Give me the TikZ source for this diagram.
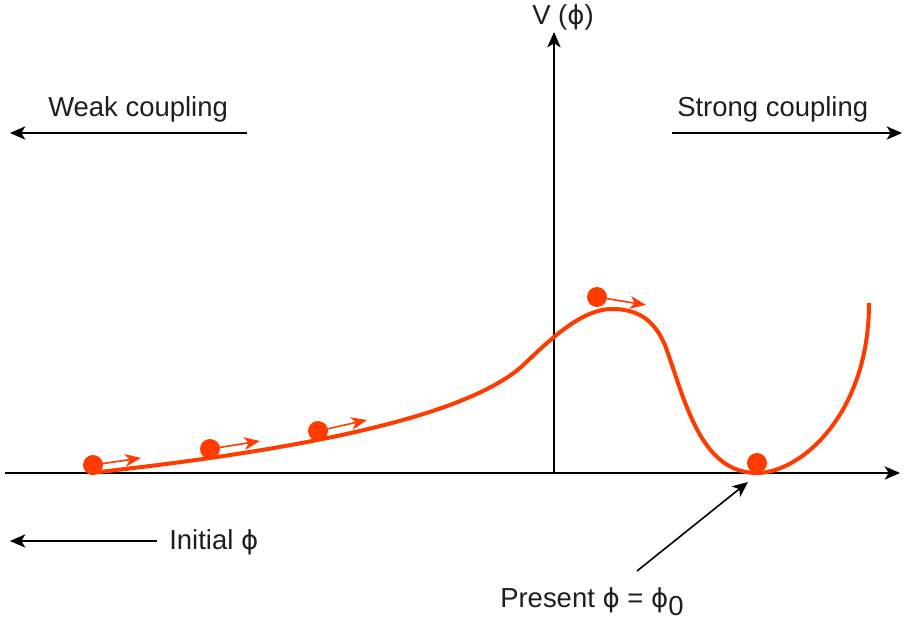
\documentclass[tikz,border=0pt]{standalone}
\usepackage{fontspec}
\setmainfont{Liberation Sans}
\newfontfamily\phifont[Scale=0.95]{DejaVu Sans}
\newcommand\phisym{{\phifont ϕ}}
\usetikzlibrary{arrows.meta}
\definecolor{curveorange}{RGB}{255,59,0}
\definecolor{txt}{RGB}{30,30,30}
\begin{document}
\begin{tikzpicture}[x=0.75pt,y=-0.75pt,
  lbl/.style={anchor=base west, inner sep=0pt, font=\fontsize{20.6}{24}\selectfont, text=txt},
  blackarrow/.style={line width=1.2pt, -{Stealth[length=11.5pt,width=10pt,inset=3pt]}},
  ball/.style={circle, fill=curveorange, inner sep=0pt, minimum size=15pt},
  motion/.style={curveorange, line width=1.2pt, -{Stealth[length=12pt,width=9.5pt,inset=3.5pt]}},
  potential/.style={curveorange, line width=3pt}
]
\useasboundingbox (0,0) rectangle (904,620);

% axes
\coordinate (xstart) at (5,473);
\coordinate (xend) at (900,473);
\coordinate (origin) at (554,473);
\coordinate (ytop) at (554,32);
\draw[blackarrow] (xstart) -- (xend);
\draw[blackarrow] (origin) -- (ytop);

% labels
\node[lbl] (vlabel) at (532,25) {V (\phisym)};
\node[lbl] (weak) at (48,117) {Weak coupling};
\node[lbl] (strong) at (677,117) {Strong coupling};
\node[lbl] (initial) at (169,549) {Initial \phisym};
\node[lbl] (present) at (500,607) {Present \phisym\ = \phisym\raisebox{-6pt}{0}};

% direction arrows
\coordinate (weakR) at (247,133);
\coordinate (weakL) at (10,133);
\draw[blackarrow] (weakR) -- (weakL);
\coordinate (strongL) at (672,133);
\coordinate (strongR) at (902,133);
\draw[blackarrow] (strongL) -- (strongR);
\coordinate (initR) at (157,541);
\coordinate (initL) at (10,541);
\draw[blackarrow] (initR) -- (initL);
\coordinate (ptrStart) at (637,571);
\coordinate (ptrEnd) at (748,482);
\draw[blackarrow] (ptrStart) -- (ptrEnd);

% potential curve
\draw[potential] (90,473) .. controls (300,450) and (460,418) .. (520,368)
  .. controls (542,348) and (578,309) .. (612,309)
  .. controls (643,309) and (656,325) .. (665,345)
  .. controls (685,400) and (700,473) .. (757,473)
  .. controls (800,473) and (869,415) .. (869,303);

% balls with motion arrows
\coordinate (b1) at (93,465);
\coordinate (t1) at (141,458);
\coordinate (b2) at (210,449);
\coordinate (t2) at (260,441);
\coordinate (b3) at (318,431);
\coordinate (t3) at (367,420);
\coordinate (b4) at (597,297);
\coordinate (t4) at (646,305);
\draw[motion] (b1) -- (t1);
\draw[motion] (b2) -- (t2);
\draw[motion] (b3) -- (t3);
\draw[motion] (b4) -- (t4);
\node[ball] (ball1) at (b1) {};
\node[ball] (ball2) at (b2) {};
\node[ball] (ball3) at (b3) {};
\node[ball] (ball4) at (b4) {};
\node[ball] (ball5) at (757,463) {};
\end{tikzpicture}
\end{document}
